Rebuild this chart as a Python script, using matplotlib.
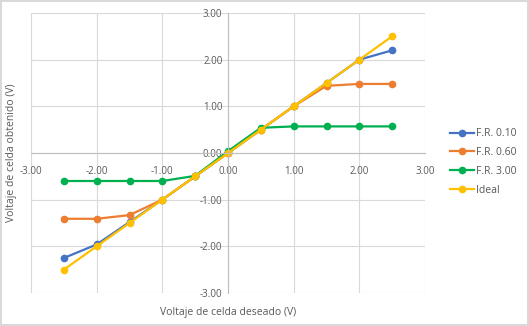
import numpy as np
import matplotlib.pyplot as plt

# datos
x = [-2.5, -2.0, -1.5, -1.0, -0.5, 0.0, 0.5, 1.0, 1.5, 2.0, 2.5]
fr010 = [-2.25, -1.96, -1.48, -1.0, -0.5, 0.0, 0.5, 1.0, 1.5, 2.0, 2.2]
fr060 = [-1.41, -1.41, -1.33, -1.0, -0.5, 0.0, 0.5, 1.0, 1.44, 1.48, 1.48]
fr300 = [-0.6, -0.6, -0.6, -0.6, -0.49, 0.04, 0.54, 0.57, 0.57, 0.57, 0.57]
ideal = [-2.5, -2.0, -1.5, -1.0, -0.5, 0.0, 0.5, 1.0, 1.5, 2.0, 2.5]

series = [("F.R. 0.10", fr010, "#4472C4"),
          ("F.R. 0.60", fr060, "#ED7D31"),
          ("F.R. 3.00", fr300, "#00B050"),
          ("Ideal", ideal, "#FFC000")]

plt.rcParams['font.family'] = ['Open Sans', 'DejaVu Sans']
gris = "#595959"

fig = plt.figure(figsize=(5.29, 3.26), dpi=100)
fig.patch.set_edgecolor("#D9D9D9")
fig.patch.set_linewidth(1.5)
ax = fig.add_axes([31/529, 1 - 293/326, (425-31)/529, (293-13)/326])

for nombre, y, c in series:
    ax.plot(x, y, color=c, lw=1.6, marker="o", ms=4.5, label=nombre)

ax.set_xlim(-3, 3)
ax.set_ylim(-3, 3)
ticks = np.arange(-3, 3.01, 1)
ax.set_xticks(ticks)
ax.set_yticks(ticks)
ax.grid(True, color="#D9D9D9", lw=0.8)
ax.set_axisbelow(True)

for s in ["top", "right"]:
    ax.spines[s].set_visible(False)
ax.spines["left"].set_position(("data", 0))
ax.spines["bottom"].set_position(("data", 0))
ax.spines["left"].set_color("#BFBFBF")
ax.spines["bottom"].set_color("#BFBFBF")
ax.tick_params(length=0, labelsize=7, labelcolor=gris)
ax.tick_params(axis="x", pad=9)
ax.tick_params(axis="y", pad=4)
ax.set_xticklabels([f"{t:.2f}" for t in ticks])
ax.set_yticklabels([f"{t:.2f}" for t in ticks])

# etiquetas de eje fuera del area
fig.text((31+425)/2/529, 1 - 313/326, "Voltaje de celda deseado (V)",
         ha="center", va="center", fontsize=7.5, color=gris)
fig.text(12/529, 1 - 153/326, "Voltaje de celda obtenido (V)",
         ha="center", va="center", rotation=90, fontsize=7.5, color=gris)

ax.legend(loc="center left", bbox_to_anchor=(450/529, 1 - 162/326),
          bbox_transform=fig.transFigure, frameon=False, fontsize=7.5,
          labelcolor=gris, handlelength=2.3, handletextpad=0.2,
          labelspacing=0.75, borderpad=0, borderaxespad=0)

fig.savefig("out.png", dpi=100)
